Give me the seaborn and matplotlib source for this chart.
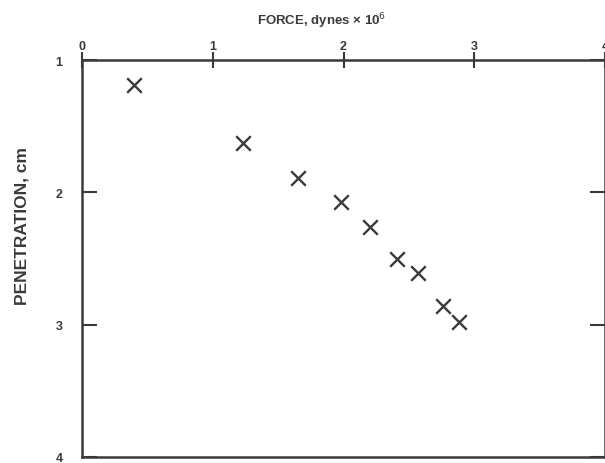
import matplotlib
matplotlib.use("Agg")
import matplotlib.pyplot as plt
import seaborn as sns
import pandas as pd

force = [0.40, 1.23, 1.655, 1.98, 2.20, 2.41, 2.57, 2.76, 2.88]
penetration = [1.19, 1.63, 1.89, 2.07, 2.26, 2.50, 2.61, 2.86, 2.98]
x_ticks = [0, 1, 2, 3, 4]
y_ticks = [1, 2, 3, 4]

df = pd.DataFrame({"force": force, "penetration": penetration})

sns.set_theme(style="white")
plt.rcParams['font.family'] = ['Liberation Sans', 'DejaVu Sans']

ink = "#3a3a3a"
fig = plt.figure(figsize=(6.05, 4.64), dpi=100)
ax = fig.add_axes([82/605, 6/464, 523/605, 397/464])

sns.scatterplot(data=df, x="force", y="penetration", marker="x", s=110,
                linewidth=1.7, color=ink, ax=ax, legend=False, zorder=3)

ax.set_xlim(0, 4)
ax.set_ylim(4, 1)
ax.xaxis.tick_top()
ax.xaxis.set_label_position("top")
ax.set_xticks(x_ticks)
ax.set_yticks(y_ticks)
ax.set_xticklabels([str(v) for v in x_ticks])
ax.set_yticklabels([str(v) for v in y_ticks])
ax.tick_params(axis="x", direction="inout", length=11, width=1.5, color=ink,
               labelsize=9, labelcolor=ink, pad=0)
ax.tick_params(axis="y", which="both", left=True, right=True, direction="in",
               length=11, width=1.5, color=ink, labelsize=9, labelcolor=ink, pad=14)
for lbl in ax.get_xticklabels() + ax.get_yticklabels():
    lbl.set_fontweight("bold")
    lbl.set_clip_on(False)

ax.set_xlabel("FORCE, dynes × 10$^6$", fontsize=9.5, fontweight="bold", color=ink)
ax.xaxis.set_label_coords((322 - 82) / 523, (458 - 25) / 397)
ax.set_ylabel("PENETRATION, cm", fontsize=12.5, fontweight="bold", color=ink)
ax.yaxis.set_label_coords((30 - 82) / 523, (458 - 226) / 397)

for side in ["top", "bottom", "left", "right"]:
    ax.spines[side].set_visible(True)
    ax.spines[side].set_color(ink)
    ax.spines[side].set_linewidth(1.8)

fig.savefig("out.png", dpi=100)
